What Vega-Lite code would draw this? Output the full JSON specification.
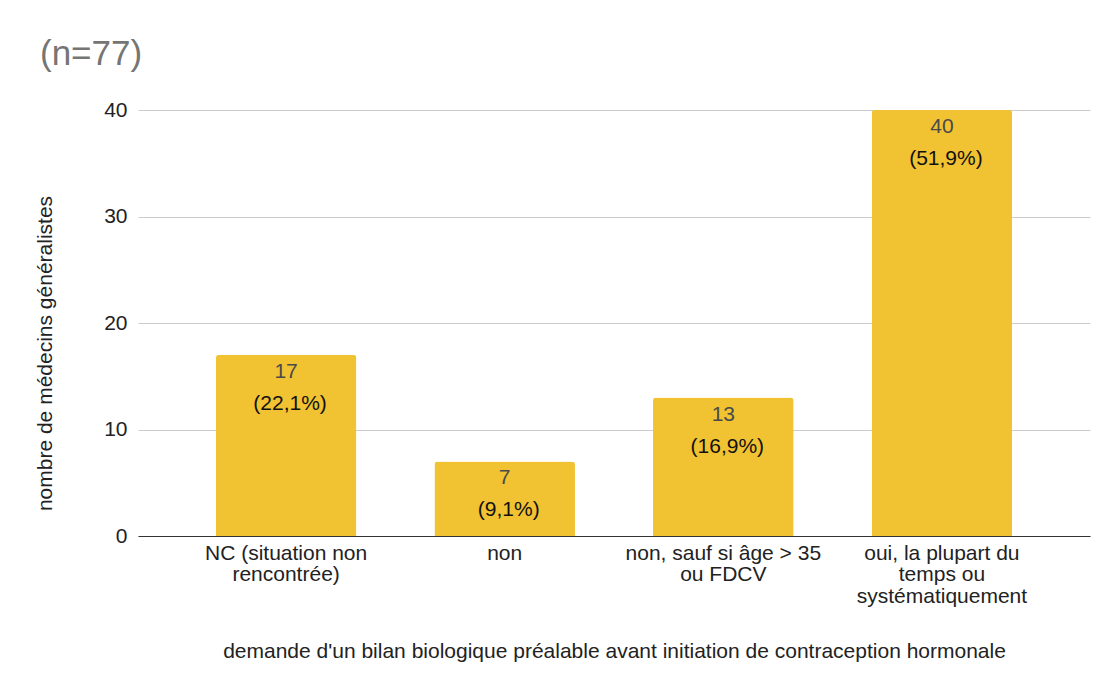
{
  "$schema": "https://vega.github.io/schema/vega-lite/v6.json",
  "autosize": {"type": "none"},
  "padding": {"left": 138, "top": 110, "right": 19, "bottom": 155},
  "width": 952,
  "height": 426,
  "background": "white",
  "title": {
    "text": "(n=77)",
    "anchor": "start",
    "frame": "group",
    "fontSize": 35,
    "font": "Liberation Sans",
    "fontWeight": "normal",
    "color": "#757575",
    "dx": -98,
    "offset": 27
  },
  "data": {
    "values": [
      {"cat": "NC (situation non\nrencontrée)", "n": 17, "pct": "(22,1%)"},
      {"cat": "non", "n": 7, "pct": "(9,1%)"},
      {"cat": "non, sauf si âge > 35\nou FDCV", "n": 13, "pct": "(16,9%)"},
      {"cat": "oui, la plupart du\ntemps ou\nsystématiquement", "n": 40, "pct": "(51,9%)"}
    ]
  },
  "encoding": {
    "x": {
      "field": "cat",
      "type": "nominal",
      "sort": null,
      "scale": {"paddingInner": 0.357, "paddingOuter": 0.356},
      "axis": {
        "title": "demande d'un bilan biologique préalable avant initiation de contraception hormonale",
        "labelAngle": 0,
        "labelExpr": "split(datum.label, '\\n')",
        "labelLineHeight": 21.5,
        "labelFontSize": 21,
        "labelColor": "#222222",
        "labelPadding": 6,
        "labelBaseline": "top",
        "labelLimit": 400,
        "ticks": false,
        "domainColor": "#333333",
        "domainWidth": 1,
        "titleFontSize": 21,
        "titleFontWeight": "normal",
        "titleColor": "#222222",
        "titleBaseline": "middle",
        "titleY": 115
      }
    },
    "y": {
      "field": "n",
      "type": "quantitative",
      "scale": {"domain": [0, 40]},
      "axis": {
        "title": "nombre de médecins généralistes",
        "values": [0, 10, 20, 30, 40],
        "domain": false,
        "ticks": false,
        "gridColor": "#cccccc",
        "labelFontSize": 21,
        "labelColor": "#222222",
        "labelPadding": 11,
        "titleFontSize": 21,
        "titleFontWeight": "normal",
        "titleColor": "#222222",
        "titleX": -93,
        "titleY": 243,
        "titleBaseline": "middle"
      }
    }
  },
  "layer": [
    {"mark": {"type": "bar", "color": "#F1C232", "cornerRadiusTopLeft": 3, "cornerRadiusTopRight": 3}},
    {
      "mark": {"type": "text", "dy": 17, "baseline": "middle", "fontSize": 21, "color": "#4a4a4a", "font": "Liberation Sans"},
      "encoding": {"text": {"field": "n", "type": "quantitative"}}
    },
    {
      "mark": {"type": "text", "dy": 49, "dx": 4, "baseline": "middle", "fontSize": 21, "color": "#111111", "font": "Liberation Sans"},
      "encoding": {"text": {"field": "pct", "type": "nominal"}}
    }
  ],
  "config": {
    "view": {"stroke": null},
    "font": "Liberation Sans"
  }
}
